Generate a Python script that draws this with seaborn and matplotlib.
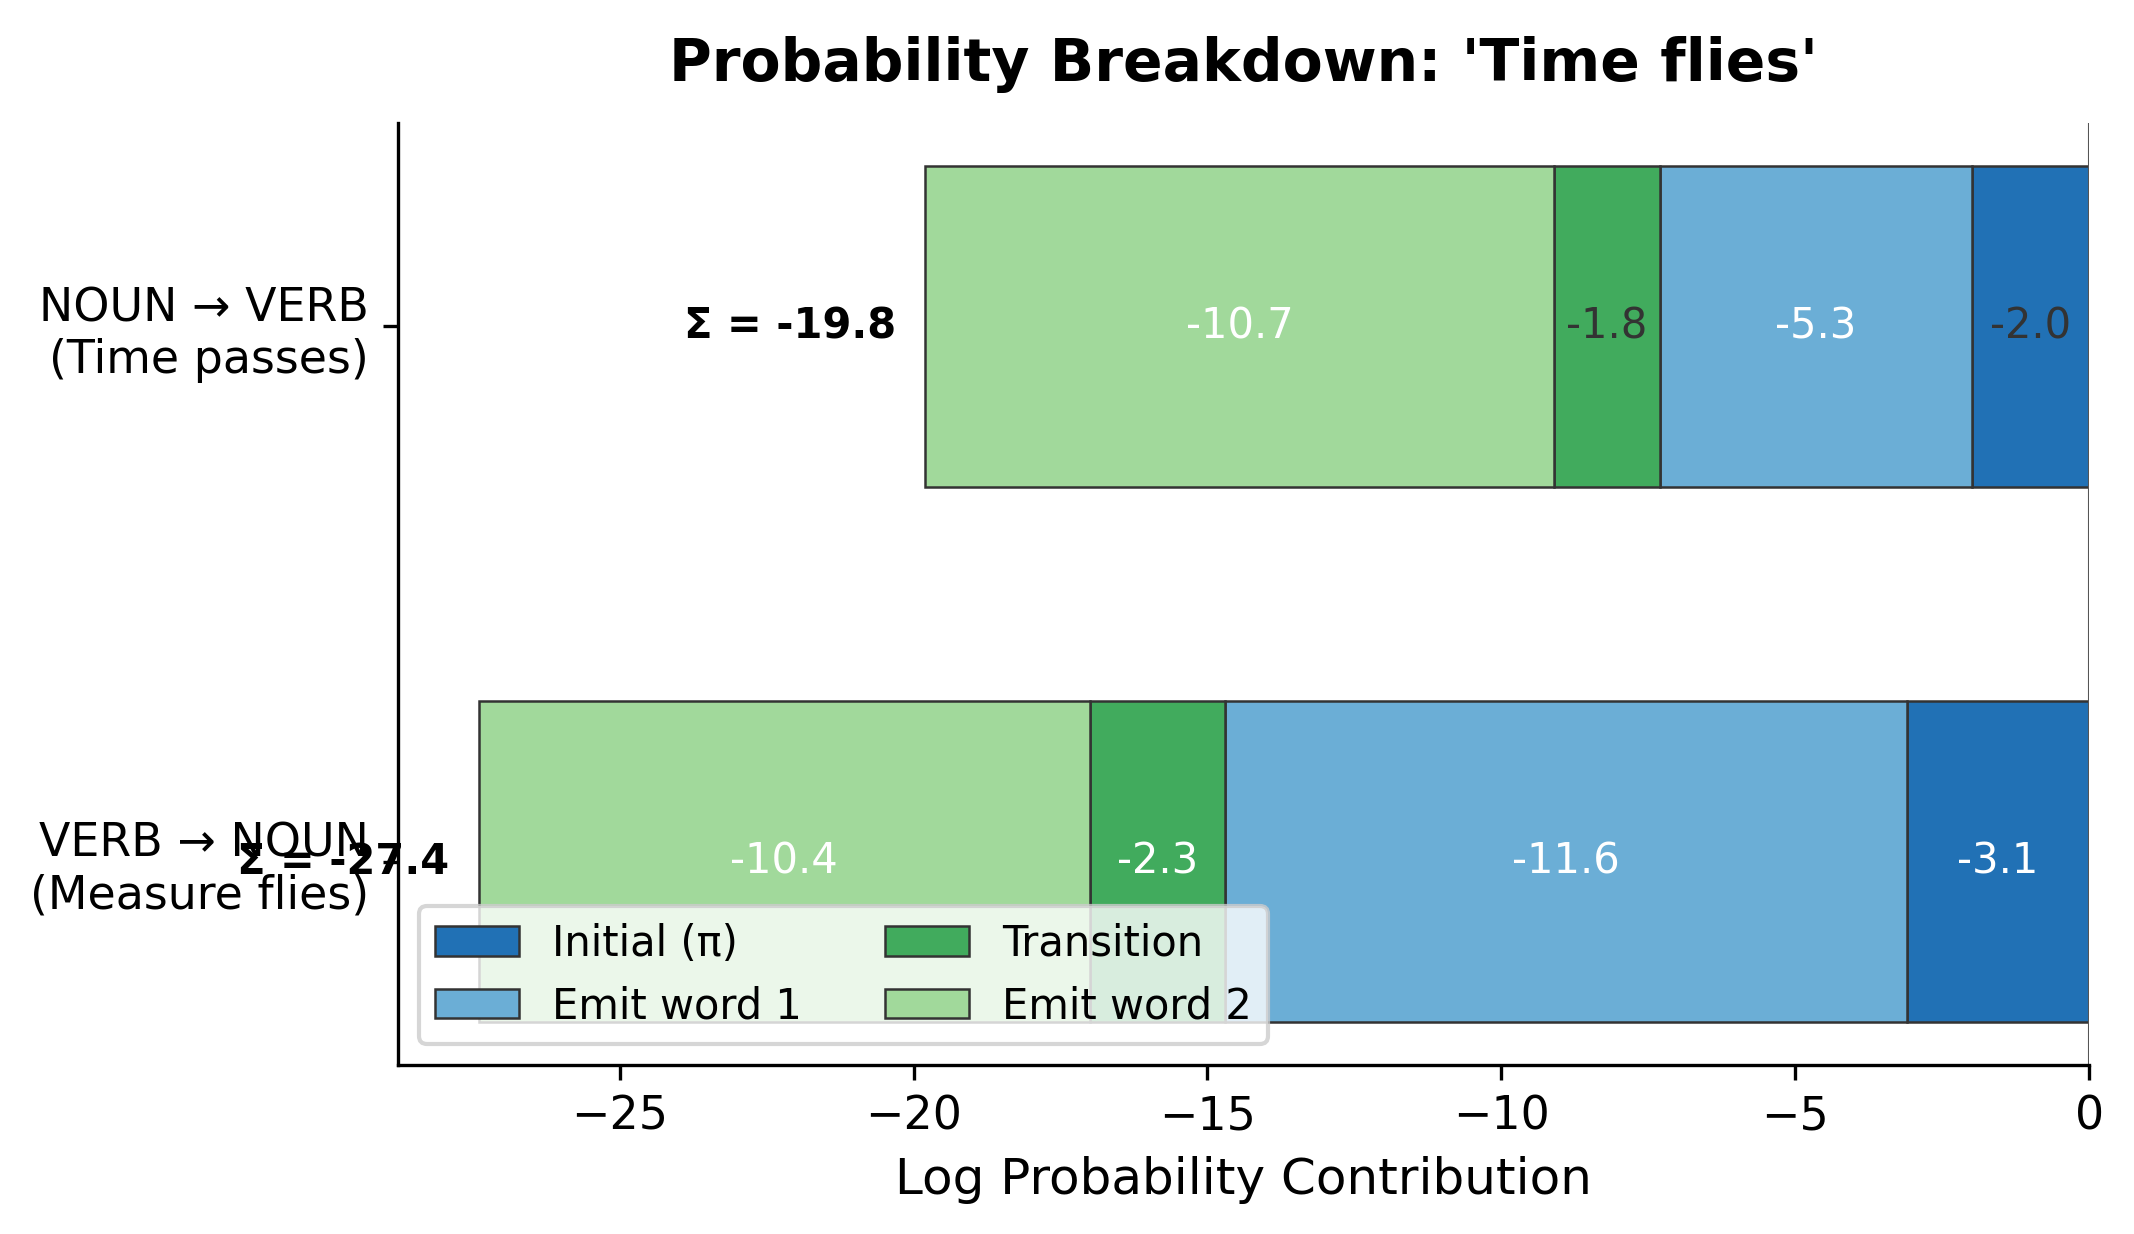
import numpy as np
import matplotlib
matplotlib.use("Agg")
import matplotlib.pyplot as plt
import seaborn as sns

# %%
paths = ["NOUN → VERB\n(Time passes)", "VERB → NOUN\n(Measure flies)"]
components = ["Initial (π)", "Emit word 1", "Transition", "Emit word 2"]
initial = [-2.0, -3.1]
emit_word1 = [-5.3, -11.6]
transition = [-1.8, -2.3]
emit_word2 = [-10.7, -10.4]
colors = ["#2171b5", "#6baed6", "#41ab5d", "#a1d99b"]

# %%
plt.rcParams["font.family"] = ["DejaVu Sans"]

fig, ax = plt.subplots(figsize = (2134 / 300, 1234 / 300), dpi = 300)
fig.subplots_adjust(left = 0.1865, right = 0.979, top = 0.9003, bottom = 0.137)

series = [initial, emit_word1, transition, emit_word2]
y = np.arange(len(paths))
left = np.zeros(len(paths))
for name, vals, col in zip(components, series, colors):
    vals = np.array(vals)
    ax.barh(y, vals, left = left, height = 0.6, color = col, edgecolor = "#333333", linewidth = 0.6, label = name)
    for yi, v, l in zip(y, vals, left):
        ax.text(l + v / 2, yi, f"{v:.1f}", ha = "center", va = "center", fontsize = 10,
                color = "white" if abs(v) > 2.0 else "#333333")
    left = left + vals

for yi, total in zip(y, left):
    ax.text(total - 0.5, yi, f"Σ = {total:.1f}", ha = "right", va = "center", fontsize = 10, fontweight = "bold")

ax.axvline(0, color = "#555555", linewidth = 0.5)
ax.set_yticks(y)
ax.set_yticklabels(paths, fontsize = 11)
ax.tick_params(axis = "x", labelsize = 11)
ax.invert_yaxis()
ax.set_xlim(left.min() * 1.05, 0)
ax.set_xlabel("Log Probability Contribution", fontsize = 12)
ax.set_title("Probability Breakdown: 'Time flies'", fontsize = 14, fontweight = "bold", pad = 10)
ax.legend(loc = "lower left", ncol = 2, fontsize = 10)
sns.despine(ax = ax)

fig.savefig("out.png", dpi = 300)
